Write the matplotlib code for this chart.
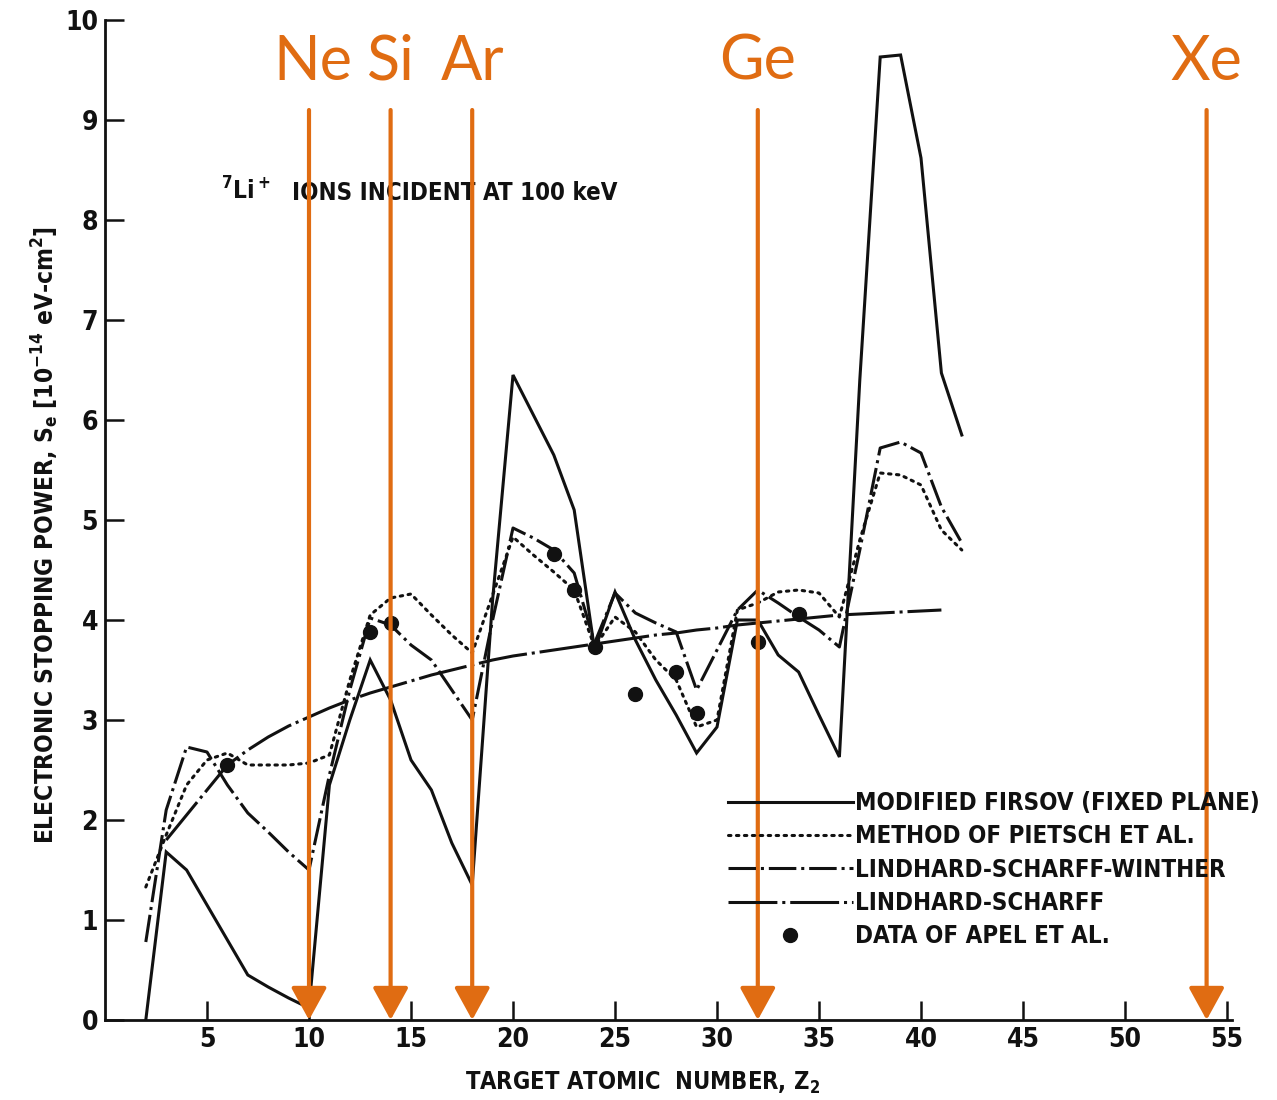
import matplotlib
matplotlib.use("Agg")
import matplotlib.pyplot as plt
from matplotlib import font_manager

# ---- data -------------------------------------------------------------
z_firsov = list(range(2, 43))
se_firsov = [0.00, 1.68, 1.50, 1.15, 0.80, 0.45, 0.33, 0.22, 0.12, 2.35,
             3.00, 3.60, 3.20, 2.60, 2.30, 1.77, 1.35, 4.20, 6.45, 6.05,
             5.65, 5.10, 3.70, 4.28, 3.80, 3.40, 3.05, 2.67, 2.93, 4.00,
             4.00, 3.65, 3.48, 3.05, 2.63, 6.40, 9.63, 9.65, 8.62, 6.47,
             5.85]

z_pietsch = list(range(2, 43))
se_pietsch = [1.33, 1.85, 2.35, 2.60, 2.67, 2.55, 2.55, 2.55, 2.57, 2.65,
              3.40, 4.05, 4.22, 4.26, 4.05, 3.85, 3.67, 4.25, 4.83, 4.65,
              4.48, 4.30, 3.73, 4.03, 3.88, 3.60, 3.40, 2.93, 3.00, 4.10,
              4.17, 4.28, 4.30, 4.27, 4.03, 4.80, 5.47, 5.45, 5.35, 4.90,
              4.70]

z_lsw = list(range(2, 43))
se_lsw = [0.78, 2.10, 2.73, 2.68, 2.35, 2.07, 1.88, 1.68, 1.50, 2.45,
          3.30, 4.02, 3.95, 3.75, 3.60, 3.30, 3.00, 4.00, 4.92, 4.82,
          4.70, 4.47, 3.77, 4.27, 4.07, 3.97, 3.88, 3.30, 3.70, 4.10,
          4.30, 4.17, 4.03, 3.90, 3.73, 4.70, 5.72, 5.78, 5.67, 5.13,
          4.77]

z_ls = list(range(3, 42))
se_ls = [1.80, 2.05, 2.30, 2.55, 2.70, 2.83, 2.94, 3.03, 3.12, 3.20,
         3.27, 3.33, 3.39, 3.45, 3.50, 3.55, 3.60, 3.64, 3.67, 3.70,
         3.73, 3.76, 3.79, 3.82, 3.85, 3.87, 3.90, 3.92, 3.95, 3.97,
         3.99, 4.01, 4.03, 4.05, 4.06, 4.07, 4.08, 4.09, 4.10]

z_apel = [6, 13, 14, 22, 23, 24, 26, 28, 29, 32, 34]
se_apel = [2.55, 3.88, 3.97, 4.66, 4.30, 3.73, 3.26, 3.48, 3.07, 3.78, 4.06]

elements = ["Ne", "Si", "Ar", "Ge", "Xe"]
element_z = [10, 14, 18, 32, 54]

series_labels = ["MODIFIED FIRSOV (FIXED PLANE)",
                 "METHOD OF PIETSCH ET AL.",
                 "LINDHARD-SCHARFF-WINTHER",
                 "LINDHARD-SCHARFF",
                 "DATA OF APEL ET AL."]

x_ticks = [5, 10, 15, 20, 25, 30, 35, 40, 45, 50, 55]
y_ticks = list(range(0, 11))

# ---- fonts ------------------------------------------------------------
available = {f.name for f in font_manager.fontManager.ttflist}
if "Liberation Sans Narrow" in available:
    cond = dict(family=["Liberation Sans Narrow", "DejaVu Sans"], weight="bold")
else:
    cond = dict(family=["DejaVu Sans"], weight="bold", stretch="condensed")
label_family = "Lato" if "Lato" in available else "DejaVu Sans"

plt.rcParams["mathtext.fontset"] = "custom"
plt.rcParams["mathtext.rm"] = cond["family"][0] + ":bold"
plt.rcParams["mathtext.it"] = cond["family"][0] + ":bold"
plt.rcParams["mathtext.bf"] = cond["family"][0] + ":bold"

ORANGE = "#E06C12"
INK = "#111111"

# ---- figure -----------------------------------------------------------
fig = plt.figure(figsize=(12.77, 11.0), dpi=100)
ax = fig.add_axes([105 / 1277, 80 / 1100, 1127 / 1277, 1000 / 1100])
ax.set_xlim(0, 1127 / 20.4)
ax.set_ylim(0, 10)

lw = 2.2
ax.plot(z_firsov, se_firsov, color=INK, lw=lw, ls="-",
        solid_joinstyle="miter", label=series_labels[0])
ax.plot(z_pietsch, se_pietsch, color=INK, lw=lw, ls=(0, (0.8, 1.8)),
        dash_capstyle="round", label=series_labels[1])
ax.plot(z_lsw, se_lsw, color=INK, lw=lw, ls=(0, (9, 1.6, 1.0, 1.6)),
        label=series_labels[2])
ax.plot(z_ls, se_ls, color=INK, lw=lw, ls=(0, (16, 1.6, 1.0, 1.6)),
        label=series_labels[3])
ax.plot(z_apel, se_apel, ls="none", marker="o", ms=10, color=INK,
        label=series_labels[4])

# element markers along the top
for name, z in zip(elements, element_z):
    ax.annotate("", xy=(z, 0), xytext=(z, 9.1),
                arrowprops=dict(arrowstyle="-|>,head_length=1.0,head_width=0.55",
                                color=ORANGE, lw=3.0, mutation_scale=20,
                                shrinkA=0, shrinkB=0),
                annotation_clip=False, zorder=5)
    ax.text(z + (0.2 if name == "Ne" else 0), 9.4, name, color=ORANGE,
            fontsize=44, family=label_family, ha="center", va="baseline",
            zorder=6)

# ion / energy caption
ax.text(5.7, 8.2, r"$\mathregular{^7Li^+}$", fontsize=17.5, color=INK,
        ha="left", va="baseline", **cond)
ax.text(9.15, 8.2, "IONS INCIDENT AT 100 keV", fontsize=17.3, color=INK,
        ha="left", va="baseline", **cond)

# axes styling
for side in ("top", "right"):
    ax.spines[side].set_visible(False)
for side in ("left", "bottom"):
    ax.spines[side].set_linewidth(2.0)
    ax.spines[side].set_color(INK)

ax.set_xticks(x_ticks)
ax.set_yticks(y_ticks)
ax.tick_params(direction="in", length=14, width=1.8, colors=INK, pad=5)
for lab in ax.get_xticklabels() + ax.get_yticklabels():
    lab.set_fontsize(19)
    lab.set_family(cond["family"])
    lab.set_weight("bold")
    if "stretch" in cond:
        lab.set_stretch(cond["stretch"])

fig.text(45 / 1277, 1 - 535 / 1100,
         r"ELECTRONIC STOPPING POWER, $\mathregular{S_e}$ "
         r"[$\mathregular{10^{-14}}$ eV-cm$\mathregular{^2}$]",
         rotation=90, ha="center", va="center", fontsize=17.6, color=INK, **cond)
fig.text(643 / 1277, 1 - 1083 / 1100,
         r"TARGET ATOMIC  NUMBER, $\mathregular{Z_2}$",
         ha="center", va="center", fontsize=17, color=INK, **cond)

leg = ax.legend(loc="upper left", bbox_to_anchor=(623 / 1127, 0.229),
                frameon=False, handlelength=5.2, handletextpad=0.1,
                labelspacing=0.39, borderpad=0, borderaxespad=0,
                numpoints=1, prop=dict(size=17.3, **cond))
for t in leg.get_texts():
    t.set_color(INK)

fig.savefig("out.png", dpi=100, facecolor="white")
